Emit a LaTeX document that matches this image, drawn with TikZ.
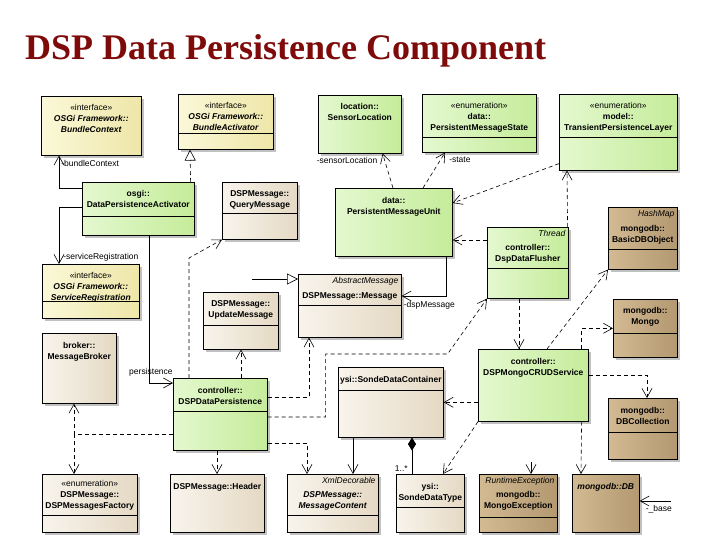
\documentclass[tikz,border=0pt]{standalone}
\usepackage{fontspec}
\setmainfont{Liberation Sans}
\newfontfamily\ttlfont{Liberation Serif}
\usetikzlibrary{arrows.meta,positioning,shadows}
\definecolor{ttlred}{HTML}{7E0A0A}
\definecolor{yelA}{HTML}{FBF8D8}
\definecolor{yelB}{HTML}{EEE6A8}
\definecolor{grnA}{HTML}{E4F8CF}
\definecolor{grnB}{HTML}{C5EC9A}
\definecolor{begA}{HTML}{F8F4EC}
\definecolor{begB}{HTML}{E5D9C4}
\definecolor{brnA}{HTML}{D2BA92}
\definecolor{brnB}{HTML}{B39870}

\begin{document}
\begin{tikzpicture}[x=1pt,y=-1pt]
\tikzstyle{cls}=[draw, line width=0.6pt, inner sep=0pt, anchor=north west,
  drop shadow={shadow xshift=2.5pt, shadow yshift=-2.5pt, fill=black!40, opacity=0.6}]
\tikzstyle{yel}=[cls, left color=yelA, right color=yelB]
\tikzstyle{grn}=[cls, left color=grnA, right color=grnB]
\tikzstyle{beg}=[cls, left color=begA, right color=begB]
\tikzstyle{brn}=[cls, left color=brnA, right color=brnB]
\tikzstyle{txt}=[inner sep=0pt, align=center, font=\fontsize{8.5}{11}\selectfont\bfseries]
\tikzstyle{tag}=[inner sep=0pt, font=\fontsize{8.5}{11}\selectfont\itshape]
\tikzstyle{lbl}=[inner sep=1pt, font=\fontsize{8.5}{11}\selectfont]
\tikzstyle{assoc}=[line width=0.6pt, -{Straight Barb[length=9pt,width=10pt]}]
\tikzstyle{dep}=[assoc, dash pattern=on 4pt off 3pt]
\tikzstyle{real}=[line width=0.6pt, dash pattern=on 4pt off 3pt, -{Triangle[open,length=11pt,width=11pt]}]
\tikzstyle{gen}=[line width=0.6pt, -{Triangle[open,length=11pt,width=11pt]}]
\tikzstyle{comp}=[line width=0.6pt, {Diamond[length=13pt,width=8pt]}-]

\path[use as bounding box, fill=white] (0,0) rectangle (720,540);
\node[font=\ttlfont\bfseries\fontsize{36}{40}\selectfont, text=ttlred, anchor=base west, inner sep=0pt] (title) at (25,60) {DSP Data Persistence Component};

% classes
\node[yel, minimum width=100pt, minimum height=59pt] (bc) at (41,96) {};
\node[yel, minimum width=95pt, minimum height=55pt] (ba) at (178,94) {};
\node[grn, minimum width=83pt, minimum height=58pt] (sl) at (318,95) {};
\node[grn, minimum width=114pt, minimum height=58pt] (pms) at (422,94) {};
\node[grn, minimum width=118pt, minimum height=76pt] (tpl) at (559,94) {};
\node[grn, minimum width=112pt, minimum height=53pt] (act) at (82,182) {};
\node[beg, minimum width=75pt, minimum height=57pt] (qm) at (222,182) {};
\node[grn, minimum width=117pt, minimum height=68pt] (pmu) at (335,188) {};
\node[grn, minimum width=81pt, minimum height=71pt] (fl) at (487,227) {};
\node[brn, minimum width=69pt, minimum height=62pt] (bdo) at (608,207) {};
\node[yel, minimum width=97pt, minimum height=54pt] (sr) at (42,264) {};
\node[beg, minimum width=74pt, minimum height=70pt] (mb) at (42,333) {};
\node[beg, minimum width=75pt, minimum height=57pt] (um) at (203,292) {};
\node[beg, minimum width=103pt, minimum height=63pt] (msg) at (298,274) {};
\node[grn, minimum width=94pt, minimum height=72pt] (dp) at (173,378) {};
\node[beg, minimum width=105pt, minimum height=70pt] (sdc) at (338,367) {};
\node[grn, minimum width=110pt, minimum height=72pt] (crud) at (478,349) {};
\node[brn, minimum width=64pt, minimum height=58pt] (mg) at (613,299) {};
\node[brn, minimum width=69pt, minimum height=61pt] (dbc) at (608,398) {};
\node[beg, minimum width=95pt, minimum height=58pt] (mf) at (42,474) {};
\node[beg, minimum width=94pt, minimum height=58pt] (hd) at (170,474) {};
\node[beg, minimum width=91pt, minimum height=58pt] (mc) at (287,474) {};
\node[beg, minimum width=68pt, minimum height=58pt] (sdt) at (396,474) {};
\node[brn, minimum width=78pt, minimum height=58pt] (mex) at (479,474) {};
\node[brn, minimum width=67pt, minimum height=58pt] (db) at (572,474) {};

\foreach \n/\d in {ba/39,pms/43,tpl/43,act/34,qm/31,fl/41,bdo/42,sr/37,um/33,msg/31,
  dp/33,sdc/23,mg/34,dbc/34,mf/41,mc/41,sdt/33,mex/43}{
	\draw[line width=0.6pt] ([yshift=-\d pt]\n.north west) -- ([yshift=-\d pt]\n.north east);}

% names
\node[txt, below=8pt of bc.north] (bc-t) {\textmd{«interface»}\\\textit{OSGi Framework::}\\\textit{BundleContext}};
\node[txt, below=8pt of ba.north] (ba-t) {\textmd{«interface»}\\\textit{OSGi Framework::}\\\textit{BundleActivator}};
\node[txt, below=8pt of sl.north] (sl-t) {location::\\SensorLocation};
\node[txt, below=8pt of pms.north] (pms-t) {\textmd{«enumeration»}\\data::\\PersistentMessageState};
\node[txt, below=8pt of tpl.north] (tpl-t) {\textmd{«enumeration»}\\model::\\TransientPersistenceLayer};
\node[txt, below=8pt of act.north] (act-t) {osgi::\\DataPersistenceActivator};
\node[txt, below=8pt of qm.north] (qm-t) {DSPMessage::\\QueryMessage};
\node[txt, below=9pt of pmu.north] (pmu-t) {data::\\PersistentMessageUnit};
\node[tag, below left=3pt and 3pt of fl.north east] (fl-g) {Thread};
\node[txt, below=17pt of fl.north] (fl-t) {controller::\\DspDataFlusher};
\node[tag, below left=3pt and 3pt of bdo.north east] (bdo-g) {HashMap};
\node[txt, below=18pt of bdo.north] (bdo-t) {mongodb::\\BasicDBObject};
\node[txt, below=8pt of sr.north] (sr-t) {\textmd{«interface»}\\\textit{OSGi Framework::}\\\textit{ServiceRegistration}};
\node[txt, below=9pt of mb.north] (mb-t) {broker::\\MessageBroker};
\node[txt, below=8pt of um.north] (um-t) {DSPMessage::\\UpdateMessage};
\node[tag, below left=3pt and 3pt of msg.north east] (msg-g) {AbstractMessage};
\node[txt, below=18pt of msg.north] (msg-t) {DSPMessage::Message};
\node[txt, below=9pt of dp.north] (dp-t) {controller::\\DSPDataPersistence};
\node[txt, below=9pt of sdc.north] (sdc-t) {ysi::SondeDataContainer};
\node[txt, below=9pt of crud.north] (crud-t) {controller::\\DSPMongoCRUDService};
\node[txt, below=8pt of mg.north] (mg-t) {mongodb::\\Mongo};
\node[txt, below=9pt of dbc.north] (dbc-t) {mongodb::\\DBCollection};
\node[txt, below=6pt of mf.north] (mf-t) {\textmd{«enumeration»}\\DSPMessage::\\DSPMessagesFactory};
\node[txt, below=9pt of hd.north] (hd-t) {DSPMessage::Header};
\node[tag, below left=3pt and 3pt of mc.north east] (mc-g) {XmlDecorable};
\node[txt, below=17pt of mc.north] (mc-t) {\textit{DSPMessage::}\\\textit{MessageContent}};
\node[txt, below=9pt of sdt.north] (sdt-t) {ysi::\\SondeDataType};
\node[tag, below left=3pt and 3pt of mex.north east] (mex-g) {RuntimeException};
\node[txt, below=17pt of mex.north] (mex-t) {mongodb::\\MongoException};
\node[txt, below=9pt of db.north] (db-t) {\textit{mongodb::DB}};

% connectors
\coordinate (jn) at (74,434);
\coordinate (mx) at ([xshift=52pt,yshift=12pt]mex.north west);
\coordinate (gs) at ([xshift=-46pt,yshift=-5pt]msg.north west);
\coordinate (bs) at ([xshift=31pt,yshift=-27pt]db.north east);

\draw[assoc] ([yshift=-6pt]act.north west) -| ([xshift=18pt]bc.south west)
  node[lbl, anchor=north west, pos=1, xshift=1pt, yshift=-3pt] (l-bc) {-bundleContext};
\draw[assoc] ([yshift=-25pt]act.north west) -| ([xshift=17pt]sr.north west)
  node[lbl, anchor=south west, pos=1, xshift=3pt, yshift=1pt] (l-sr) {-serviceRegistration};
\draw[real] ([xshift=-4pt]act.north east) -- ([xshift=12pt]ba.south west);
\draw[assoc] ([xshift=-45pt]act.south east) |- ([yshift=-5pt]dp.north west)
  node[lbl, anchor=south east, pos=1, xshift=1pt, yshift=5pt] (l-dp) {persistence};
\draw[dep] ([xshift=16pt]dp.north west) -- ++(0,-120) -- (qm.south west);
\draw[dep] ([xshift=68pt]dp.north west) -- ([xshift=38pt]um.south west);
\draw[dep] ([yshift=-19pt]dp.north east) -| ([xshift=11pt]msg.south west);
\draw[dep] ([yshift=-39pt]dp.north east) -- ++(58,0) -- ++(0,-63) -- ++(122,0) -- (fl.south west);
\draw[dep] (dp.west |- jn) -- (jn) -- ([xshift=32pt]mb.south west);
\draw[dep] (jn) -- ([xshift=32pt]mf.north west);
\draw[dep] ([xshift=44pt]dp.south west) -- ([xshift=47pt]hd.north west);
\draw[dep] ([yshift=-65pt]dp.north east) -| ([xshift=20pt]mc.north west);
\draw[assoc] ([xshift=15pt]sdc.south west) -- ([xshift=66pt]mc.north west);
\draw[comp] ([xshift=74pt]sdc.south west) -- ([xshift=16pt]sdt.north west)
  node[lbl, anchor=south east, pos=1, xshift=-3pt, yshift=1pt] (l-sdt) {1..*};
\draw[dep] (crud.west |- sdc.east) -- (sdc.east);
\draw[dep] (crud.south west) -- ([xshift=47pt]sdt.north west);
\draw[dep] ([xshift=-7pt]crud.south east) -- ([xshift=9pt]db.north west);
\draw[assoc] (mx) -- ([xshift=52pt]mex.north west);
\draw[dep] ([xshift=-7pt]crud.north east) |- (mg.west);
\draw[dep] ([yshift=-26pt]crud.north east) -| ([xshift=39pt]dbc.north west);
\draw[dep] ([xshift=69pt]crud.north west) -- (bdo.south west);
\draw[dep] ([xshift=32pt]fl.south west) -- ([xshift=41pt]crud.north west);
\draw[dep] ([xshift=-1pt]fl.north east) -- ([xshift=8pt]tpl.south west);
\draw[dep] ([yshift=-13pt]fl.north west) -- ([yshift=-52pt]pmu.north east);
\draw[dep] ([yshift=7pt]tpl.south west) -- ([yshift=-15pt]pmu.north east);
\draw[dep] ([xshift=58pt]pmu.north west) -- ([xshift=-19pt]sl.south east)
  node[lbl, anchor=north east, pos=1, xshift=-4pt, yshift=-2pt] (l-sl) {-sensorLocation};
\draw[dep] ([xshift=88pt]pmu.north west) -- ([xshift=23pt]pms.south west)
  node[lbl, anchor=north west, pos=1, xshift=3pt, yshift=-3pt] (l-pms) {-state};
\draw[assoc] ([xshift=-6pt]pmu.south east) |- ([yshift=-22pt]msg.north east)
  node[lbl, anchor=north west, pos=1, xshift=1pt, yshift=-4pt] (l-msg) {-dspMessage};
\draw[gen] (gs) -- ([yshift=-5pt]msg.north west);
\draw[assoc] (bs) -- ([yshift=-27pt]db.north east)
  node[lbl, anchor=north west, pos=1, xshift=5pt, yshift=-3pt] (l-db) {-\_base};
\end{tikzpicture}
\end{document}
